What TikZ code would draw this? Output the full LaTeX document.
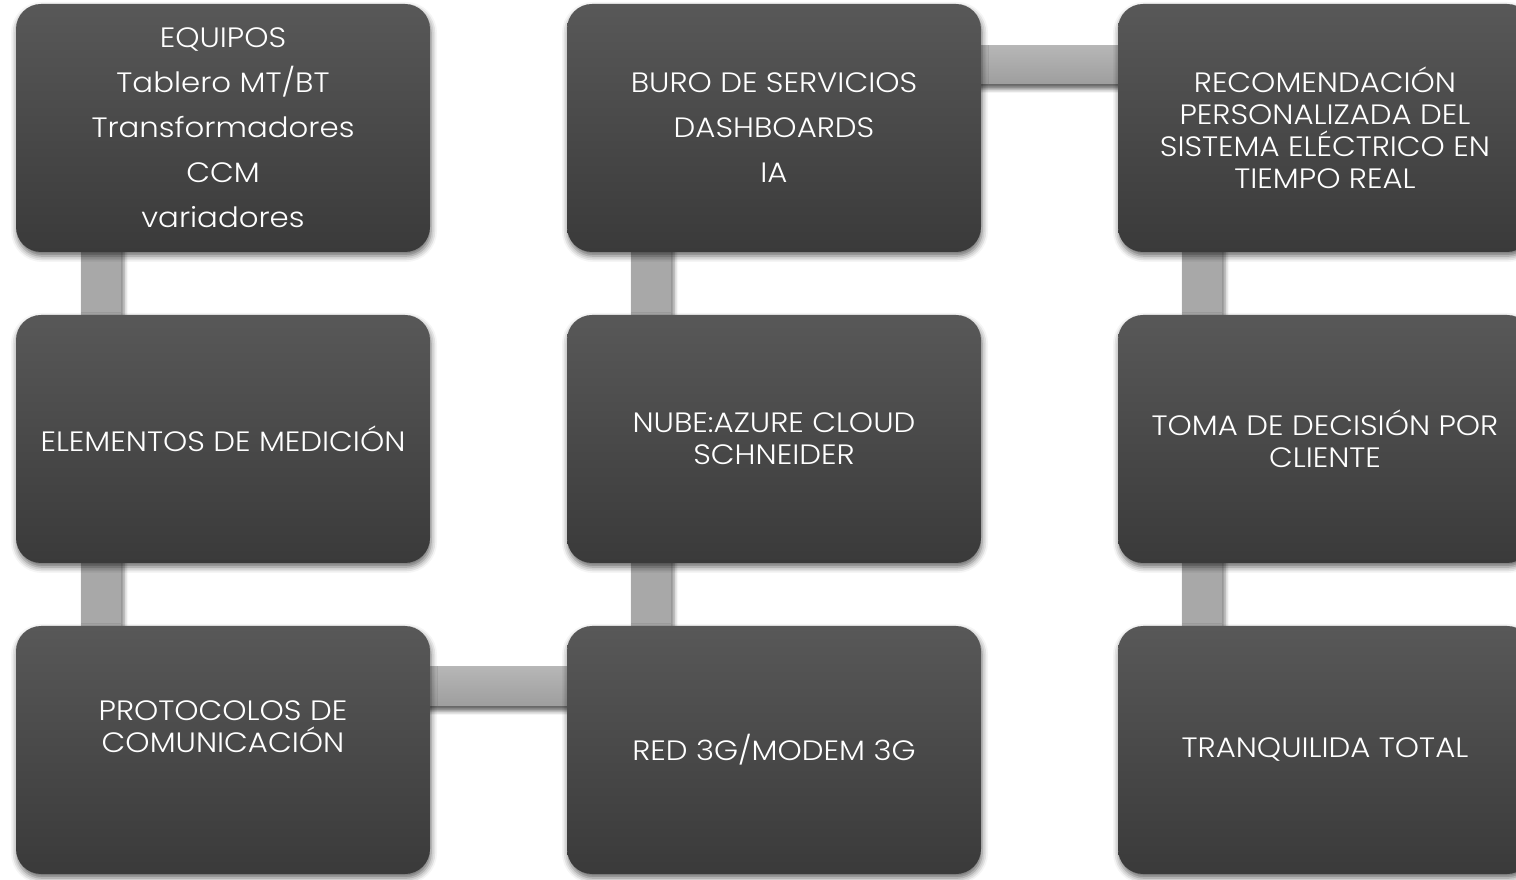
\documentclass[tikz,border=0pt]{standalone}
\usepackage{fontspec}
\setmainfont{Poppins}[UprightFont=* Light, FakeStretch=1.1]
\usetikzlibrary{shadows.blur,calc}
\definecolor{boxtop}{RGB}{88,88,88}
\definecolor{boxbot}{RGB}{58,58,58}
\definecolor{conntop}{RGB}{182,182,182}
\definecolor{connbot}{RGB}{158,158,158}
\definecolor{connv}{RGB}{168,168,168}
\pgfdeclarelayer{bg}
\pgfsetlayers{bg,main}
\tikzset{
  box/.style={rectangle, rounded corners=25pt, minimum width=414pt, minimum height=248pt,
    top color=boxtop, bottom color=boxbot, draw=none, text=white, align=center,
    font=\fontsize{28}{32}\selectfont, inner sep=0pt,
    blur shadow={shadow xshift=1pt, shadow yshift=-4pt, shadow blur radius=6pt, shadow opacity=60}},
  hconn/.style={top color=conntop, bottom color=connbot,
    blur shadow={shadow xshift=0pt, shadow yshift=-5pt, shadow blur radius=4pt, shadow opacity=60}},
  vconn/.style={fill=connv,
    blur shadow={shadow xshift=3pt, shadow yshift=0pt, shadow blur radius=4pt, shadow opacity=50}}
}
\begin{document}
\begin{tikzpicture}[x=1pt,y=1pt]
\useasboundingbox (0,0) rectangle (1516,879);
\clip (0,0) rectangle (1516,879);
\node[box] (b1) at (223,751) {EQUIPOS\\[13pt]Tablero MT/BT\\[13pt]Transformadores\\[13pt]CCM\\[13pt]variadores};
\node[box] (b2) at (774,751) {BURO DE SERVICIOS\\[13pt]DASHBOARDS\\[13pt]IA};
\node[box] (b3) at (1325,751) {RECOMENDACIÓN\\PERSONALIZADA DEL\\SISTEMA ELÉCTRICO EN\\TIEMPO REAL};
\node[box] (b4) at (223,440) {ELEMENTOS DE MEDICIÓN};
\node[box] (b5) at (774,440) {NUBE:AZURE CLOUD\\SCHNEIDER};
\node[box] (b6) at (1325,440) {TOMA DE DECISIÓN POR\\CLIENTE};
\node[box] (b7) at (223,129) {PROTOCOLOS DE\\COMUNICACIÓN\\[14pt]\mbox{}};
\node[box] (b8) at (774,129) {RED 3G/MODEM 3G};
\node[box] (b9) at (1325,129) {TRANQUILIDA TOTAL};
\begin{pgfonlayer}{bg}
\path[vconn] ($(b1.center)+(-142,0)$) rectangle ($(b4.center)+(-102,0)$);
\path[vconn] ($(b4.center)+(-142,0)$) rectangle ($(b7.center)+(-102,0)$);
\path[vconn] ($(b2.center)+(-143,0)$) rectangle ($(b5.center)+(-103,0)$);
\path[vconn] ($(b5.center)+(-143,0)$) rectangle ($(b8.center)+(-103,0)$);
\path[vconn] ($(b3.center)+(-143,0)$) rectangle ($(b6.center)+(-103,0)$);
\path[vconn] ($(b6.center)+(-143,0)$) rectangle ($(b9.center)+(-103,0)$);
\path[hconn] ($(b7.center)+(0,44)$) rectangle ($(b8.center)+(0,83)$);
\path[hconn] ($(b2.center)+(0,44)$) rectangle ($(b3.center)+(0,82)$);
\end{pgfonlayer}
\end{tikzpicture}
\end{document}
